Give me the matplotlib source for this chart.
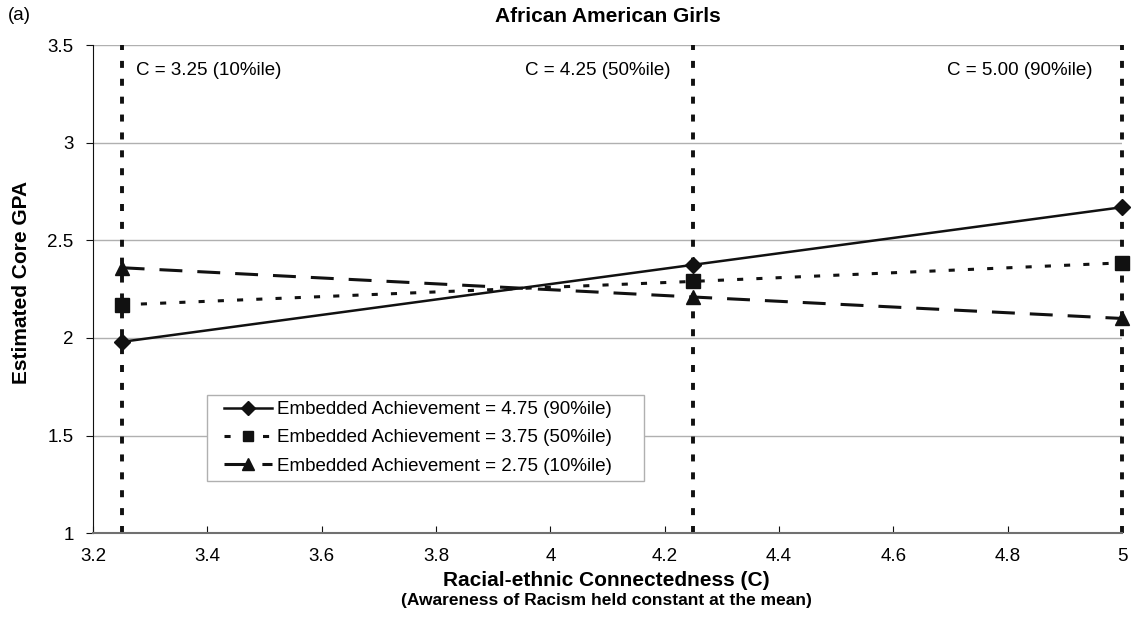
import matplotlib
matplotlib.use("Agg")
import matplotlib.pyplot as plt
from matplotlib.patches import Rectangle

plt.rcParams['font.family'] = ['Liberation Sans', 'DejaVu Sans']

c_values = [3.25, 4.25, 5.00]
high_ea = [1.98, 2.375, 2.67]
mid_ea = [2.17, 2.29, 2.385]
low_ea = [2.36, 2.21, 2.10]
series_labels = ["Embedded Achievement = 4.75 (90%ile)",
                 "Embedded Achievement = 3.75 (50%ile)",
                 "Embedded Achievement = 2.75 (10%ile)"]
c_labels = ["C = 3.25 (10%ile)", "C = 4.25 (50%ile)", "C = 5.00 (90%ile)"]
yticks = [1, 1.5, 2, 2.5, 3, 3.5]
xticks = [3.2, 3.4, 3.6, 3.8, 4, 4.2, 4.4, 4.6, 4.8, 5]

FS = 13.5
BFS = 15

fig = plt.figure(figsize=(11.32, 6.28), dpi=100)
ax = fig.add_axes([0.0822, 0.151, 0.909, 0.777])

for y in yticks[1:]:
    ax.axhline(y, color='#b0b0b0', lw=1, zorder=0)

for c in c_values:
    ax.axvline(c, color='#111111', lw=2.8, linestyle=(0, (1.8, 2.8)), zorder=1, clip_on=False)

ax.plot(c_values, high_ea, color='#111111', lw=1.8, marker='D', ms=8.5, label=series_labels[0], zorder=3, clip_on=False)
ax.plot(c_values, mid_ea, color='#111111', lw=2.2, linestyle=(0, (2, 4.3)), marker='s', ms=9.5, label=series_labels[1], zorder=3, clip_on=False)
ax.plot(c_values, low_ea, color='#111111', lw=2.2, linestyle=(0, (7.5, 4.9)), marker='^', ms=10.5, label=series_labels[2], zorder=3, clip_on=False)

ax.set_xlim(3.2, 5)
ax.set_ylim(1, 3.5)
ax.set_xticks(xticks)
ax.set_xticklabels([f"{v:g}" for v in xticks])
ax.set_yticks(yticks)
ax.set_yticklabels([f"{v:g}" for v in yticks])
ax.tick_params(axis='y', labelsize=FS, length=5, color='#111111', direction='out', pad=9)
ax.tick_params(axis='x', labelsize=FS, length=5, color='#111111', direction='in', pad=11)

for s in ['top', 'right']:
    ax.spines[s].set_visible(False)
ax.spines['left'].set_color('#111111')
ax.spines['bottom'].set_color('#707070')
ax.spines['bottom'].set_linewidth(1.5)

label_y = 3.372
ax.annotate(c_labels[0], (c_values[0], label_y), xytext=(10.4, 0), textcoords='offset points',
            fontsize=FS, va='center', ha='left')
ax.annotate(c_labels[1], (c_values[1], label_y), xytext=(-16.5, 0), textcoords='offset points',
            fontsize=FS, va='center', ha='right')
ax.annotate(c_labels[2], (c_values[2], label_y), xytext=(-21.5, 0), textcoords='offset points',
            fontsize=FS, va='center', ha='right')

# legend frame
ax.add_patch(Rectangle((0.1108, 0.1066), 0.4247, 0.1762, transform=ax.transAxes,
                       facecolor='white', edgecolor='#b0b0b0', lw=1, zorder=4))
leg = ax.legend(loc='upper left', bbox_to_anchor=(0.1273, 0.2705), fontsize=FS,
                frameon=False, handlelength=2.56, handletextpad=0.27,
                borderpad=0, borderaxespad=0, labelspacing=0.59, markerscale=0.8)
leg.set_zorder(5)

fig.text(0.019, 0.551, "Estimated Core GPA", fontsize=BFS, fontweight='bold',
         rotation=90, ha='center', va='center')
fig.text(0.536, 0.076, "Racial-ethnic Connectedness (C)", fontsize=BFS, fontweight='bold', ha='center', va='center')
fig.text(0.536, 0.044, "(Awareness of Racism held constant at the mean)", fontsize=12.5, fontweight='bold', ha='center', va='center')
fig.text(0.537, 0.973, "African American Girls", fontsize=BFS, fontweight='bold', ha='center', va='center')
fig.text(0.007, 0.976, "(a)", fontsize=FS, ha='left', va='center')

fig.savefig("out.png", dpi=100)
